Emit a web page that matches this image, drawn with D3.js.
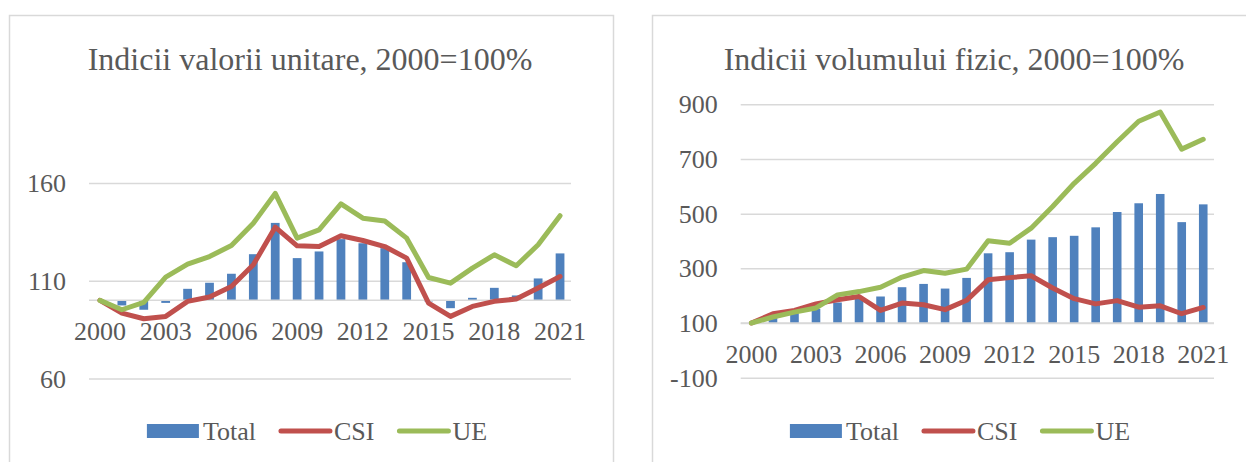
<!DOCTYPE html>
<html>
<head>
<meta charset="utf-8">
<script src="https://cdn.jsdelivr.net/npm/d3@7"></script>
<style>
  body { margin: 0; background: #fff; }
  text { font-family: "Liberation Serif", "Times New Roman", serif; fill: #595959; }
  .grid line { stroke: #d9d9d9; stroke-width: 1.5; }
  .grid path { display: none; }
</style>
</head>
<body>
<div id="charts"></div>
<script>
// categories
var years = ['2000', '2001', '2002', '2003', '2004', '2005', '2006', '2007', '2008', '2009', '2010',
             '2011', '2012', '2013', '2014', '2015', '2016', '2017', '2018', '2019', '2020', '2021'];
var yearLabels = ['2000', '2003', '2006', '2009', '2012', '2015', '2018', '2021'];
var seriesNames = ['Total', 'CSI', 'UE'];

// Indicii valorii unitare
var valTitle = 'Indicii valorii unitare, 2000=100%';
var valTicks = [60, 110, 160];
var valTotal = [100, 97.4, 95.2, 98.7, 105.9, 109, 113.6, 123.6, 139.6, 121.6, 125,
                131.3, 129.2, 126.7, 119.5, 99.5, 96, 101.3, 106.4, 102.5, 111.2, 124];
var valCSI = [100, 93.5, 90.6, 91.8, 99.5, 101.7, 107.1, 118.2, 137.4, 127.9, 127.5,
              133, 130.6, 127.5, 121.6, 98.6, 91.8, 96.9, 99.5, 100.7, 106.3, 112.2];
var valUE = [100, 95.2, 99, 111.9, 118.5, 122.4, 128, 139.4, 154.7, 131.8, 136,
             149.3, 142, 140.6, 131.8, 111.7, 108.8, 116.5, 123.3, 117.7, 128.4, 143.3];

// Indicii volumului fizic
var volTitle = 'Indicii volumului fizic, 2000=100%';
var volTicks = [-100, 100, 300, 500, 700, 900];
var volTotal = [100, 120, 136, 152, 175, 191, 197, 231, 243, 226, 265,
                355, 359, 405, 414, 419, 450, 506, 538, 572, 469, 534];
var volCSI = [100, 134, 146, 170, 185, 197, 146, 173, 167, 149, 183,
              258, 266, 273, 228, 189, 170, 182, 158, 163, 134, 157];
var volUE = [100, 122, 140, 155, 203, 215, 231, 268, 292, 282, 297,
             401, 392, 447, 526, 611, 684, 763, 838, 872, 736, 772];

var colors = { 'Total': '#4f81bd', 'CSI': '#c0504d', 'UE': '#9bbb59' };

var svg = d3.select('#charts')
  .append('svg')
    .attr('width', 1246)
    .attr('height', 462);

function drawPanel(cfg) {
  var g = svg.append('g');

  // chart border
  g.append('rect')
    .attr('x', cfg.box[0] + 0.5)
    .attr('y', cfg.box[1] + 0.5)
    .attr('width', cfg.box[2])
    .attr('height', cfg.box[3])
    .attr('fill', '#fff')
    .attr('stroke', '#d9d9d9')
    .attr('stroke-width', 1.5);

  g.append('text')
    .attr('x', cfg.titleX)
    .attr('y', 70)
    .attr('text-anchor', 'middle')
    .style('font-size', '32px')
    .text(cfg.title);

  var x = d3.scaleBand()
    .domain(years)
    .range([cfg.left, cfg.right]);

  var y = d3.scaleLinear()
    .domain(cfg.domain)
    .range([cfg.bottom, cfg.top]);

  // gridlines
  var gridAxis = d3.axisLeft(y)
    .tickValues(cfg.ticks)
    .tickSize(-(cfg.right - cfg.left))
    .tickFormat('');

  g.append('g')
    .attr('class', 'grid')
    .attr('transform', 'translate(' + cfg.left + ',0)')
    .call(gridAxis);

  g.selectAll('.ylab')
    .data(cfg.ticks)
    .enter()
    .append('text')
      .attr('class', 'ylab')
      .attr('x', cfg.left - 23)
      .attr('y', d => y(d))
      .attr('dy', '0.35em')
      .attr('text-anchor', 'end')
      .style('font-size', '26px')
      .text(d => d);

  // bars grow from 100
  var barW = x.bandwidth() * 0.4;
  g.selectAll('.bar')
    .data(cfg.total)
    .enter()
    .append('rect')
      .attr('class', 'bar')
      .attr('x', (d, i) => x(years[i]) + (x.bandwidth() - barW) / 2)
      .attr('y', d => y(Math.max(d, 100)))
      .attr('width', barW)
      .attr('height', d => Math.abs(y(d) - y(100)))
      .attr('fill', colors['Total']);

  // horizontal axis crosses at 100
  g.append('line')
    .attr('x1', cfg.left)
    .attr('x2', cfg.right)
    .attr('y1', y(100))
    .attr('y2', y(100))
    .attr('stroke', '#d9d9d9')
    .attr('stroke-width', 1.5);

  g.selectAll('.xlab')
    .data(yearLabels)
    .enter()
    .append('text')
      .attr('class', 'xlab')
      .attr('x', d => x(d) + x.bandwidth() / 2)
      .attr('y', y(100) + 40)
      .attr('text-anchor', 'middle')
      .style('font-size', '26px')
      .text(d => d);

  var line = d3.line()
    .x((d, i) => x(years[i]) + x.bandwidth() / 2)
    .y(d => y(d));

  [['CSI', cfg.csi], ['UE', cfg.ue]].forEach(function(s) {
    g.append('path')
      .datum(s[1])
      .attr('d', line)
      .attr('fill', 'none')
      .attr('stroke', colors[s[0]])
      .attr('stroke-width', 5)
      .attr('stroke-linejoin', 'round')
      .attr('stroke-linecap', 'round');
  });

  // legend
  var legend = g.append('g');
  var lx = 0;
  seriesNames.forEach(function(name) {
    var item = legend.append('g').attr('transform', 'translate(' + lx + ',0)');
    if (name == 'Total') {
      item.append('rect')
        .attr('x', 0).attr('y', -7)
        .attr('width', 52).attr('height', 14)
        .attr('fill', colors[name]);
    } else {
      item.append('line')
        .attr('x1', 3).attr('x2', 52)
        .attr('stroke', colors[name])
        .attr('stroke-width', 5)
        .attr('stroke-linecap', 'round');
    }
    var t = item.append('text')
      .attr('x', 56)
      .attr('dy', '0.35em')
      .style('font-size', '26px')
      .text(name);
    lx += 56 + t.node().getComputedTextLength() + 22;
  });
  lx -= 22;
  legend.attr('transform', 'translate(' + (cfg.legendX - lx / 2) + ',431)');
}

drawPanel({
  box: [9, 15, 604, 470],
  title: valTitle, titleX: 310,
  left: 89, right: 571, top: 183, bottom: 378.6,
  domain: [60, 160], ticks: valTicks,
  total: valTotal, csi: valCSI, ue: valUE,
  legendX: 317
});

drawPanel({
  box: [652, 15, 620, 470],
  title: volTitle, titleX: 954,
  left: 740.7, right: 1214, top: 104.3, bottom: 377.7,
  domain: [-100, 900], ticks: volTicks,
  total: volTotal, csi: volCSI, ue: volUE,
  legendX: 960
});
</script>
</body>
</html>
